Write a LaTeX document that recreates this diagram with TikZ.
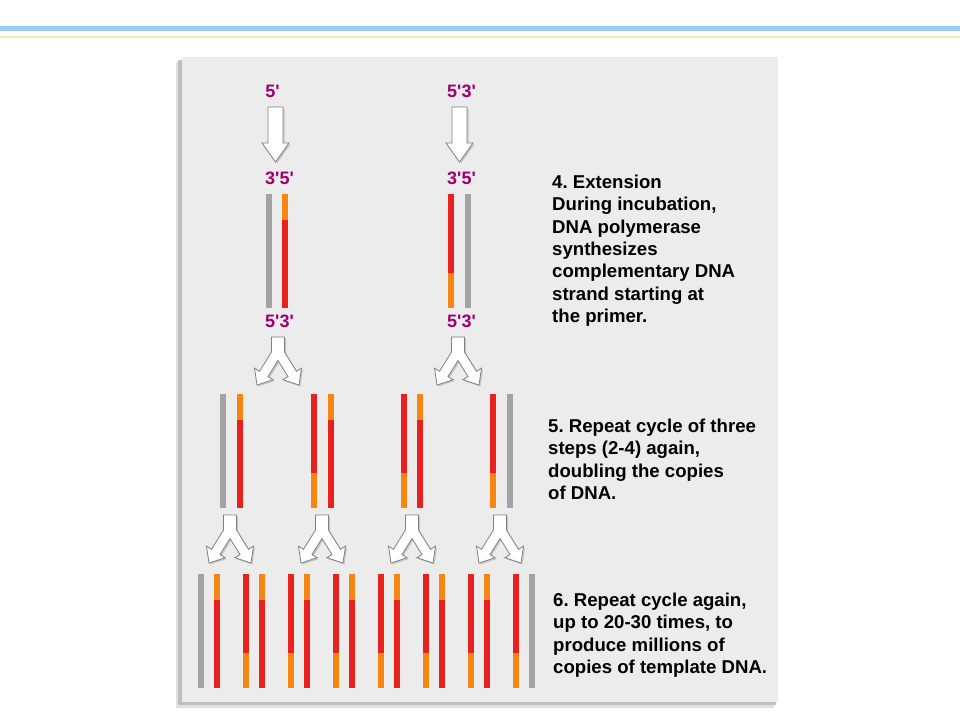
\documentclass[tikz,border=0pt]{standalone}
\usepackage{fontspec}
\setmainfont{Liberation Sans}
\usetikzlibrary{shadows}
\definecolor{strandgray}{RGB}{163,163,163}
\definecolor{strandred}{RGB}{233,33,30}
\definecolor{strandorange}{RGB}{246,134,16}
\definecolor{primecol}{RGB}{158,0,112}
\definecolor{panelgray}{RGB}{236,236,236}
\definecolor{topblue}{RGB}{153,204,245}
\definecolor{topgreen}{RGB}{222,242,186}
\newcommand\pr{\textquotesingle}
\tikzset{
  prime/.style={text=primecol, font=\bfseries\fontsize{18}{18}\selectfont, inner sep=0pt},
  steptext/.style={font=\bfseries\fontsize{18.6}{22.3}\selectfont, align=left, anchor=north west, inner sep=0pt},
  blockarrow/.style={fill=white, draw=black!50, line width=0.8pt, drop shadow={shadow xshift=1.5pt, shadow yshift=-1.5pt, opacity=0.35}},
  downarrow/.pic={\path[blockarrow] (-7.5,0) -- (7.5,0) -- (7.5,36) -- (13.5,36) -- (0,55)
      -- (-13.5,36) -- (-7.5,36) -- cycle;},
  splitarrow/.pic={\path[blockarrow] (0,0) -- (6.5,0) -- (6.5,15) -- (18.5,34.3) -- (23.5,31.2)
      -- (21,48) -- (4.9,42.7) -- (10,39.6) -- (0,23.5) -- (-10,39.6) -- (-4.9,42.7) -- (-21,48)
      -- (-23.5,31.2) -- (-18.5,34.3) -- (-6.5,15) -- (-6.5,0) -- cycle;}
}
\newcommand\gstrand[2]{\fill[strandgray] (#1-3,#2) rectangle ++(6,114);}
\newcommand\tstrand[2]{\fill[strandorange] (#1-3,#2) rectangle ++(6,26);
  \fill[strandred] (#1-3,#2+26) rectangle ++(6,88);}
\newcommand\bstrand[2]{\fill[strandred] (#1-3,#2) rectangle ++(6,79);
  \fill[strandorange] (#1-3,#2+79) rectangle ++(6,35);}
\frenchspacing

\begin{document}
\begin{tikzpicture}[x=1pt, y=-1pt]
    \useasboundingbox (0,0) rectangle (960,720);
    \fill[white] (0,0) rectangle (960,720);
    \fill[topblue] (0,26) rectangle (960,31);
    \fill[topgreen] (0,36) rectangle (960,38);

    \fill[black!12] (176,62) rectangle (774,708);
    \fill[black!25] (178,60) rectangle (776,705);
    \fill[panelgray] (182,57) rectangle (778,702);

    \node[prime] (top5) at (272.5,91) {5\pr};
    \node[prime] (top53) at (461.5,91) {5\pr3\pr};
    \node[prime] (mid35a) at (279.5,178.5) {3\pr5\pr};
    \node[prime] (mid35b) at (461.5,178.5) {3\pr5\pr};
    \node[prime] (bot53a) at (279.5,321.5) {5\pr3\pr};
    \node[prime] (bot53b) at (461.5,321.5) {5\pr3\pr};

    \pic at (275.5,107) {downarrow};
    \pic at (459.5,107) {downarrow};
    \pic at (278,337) {splitarrow};
    \pic at (458,337) {splitarrow};
    \foreach \x in {230,322,412,500}
        \pic at (\x,515) {splitarrow};

    \gstrand{268.5}{194} \tstrand{285}{194}
    \bstrand{451}{194} \gstrand{467.5}{194}

    \gstrand{223}{394} \gstrand{510}{394}
    \foreach \x in {240,331,420} {\tstrand{\x}{394}}
    \foreach \x in {314,404,493} {\bstrand{\x}{394}}

    \gstrand{200.5}{574} \gstrand{532}{574}
    \foreach \x in {217,262,307,352,397,442,487} {\tstrand{\x}{574}}
    \foreach \x in {245.5,290.5,335.5,380.5,425.5,470.5,515.5} {\bstrand{\x}{574}}

    \node[steptext] (extension) at (552,175) {4. Extension\\During incubation,\\DNA polymerase\\synthesizes\\complementary DNA\\strand starting at\\the primer.};
    \node[steptext] (repeat) at (548,419) {5. Repeat cycle of three\\steps (2-4) again,\\doubling the copies\\of DNA.};
    \node[steptext] (again) at (553,593) {6. Repeat cycle again,\\up to 20-30 times, to\\produce millions of\\copies of template DNA.};

\end{tikzpicture}
\end{document}
